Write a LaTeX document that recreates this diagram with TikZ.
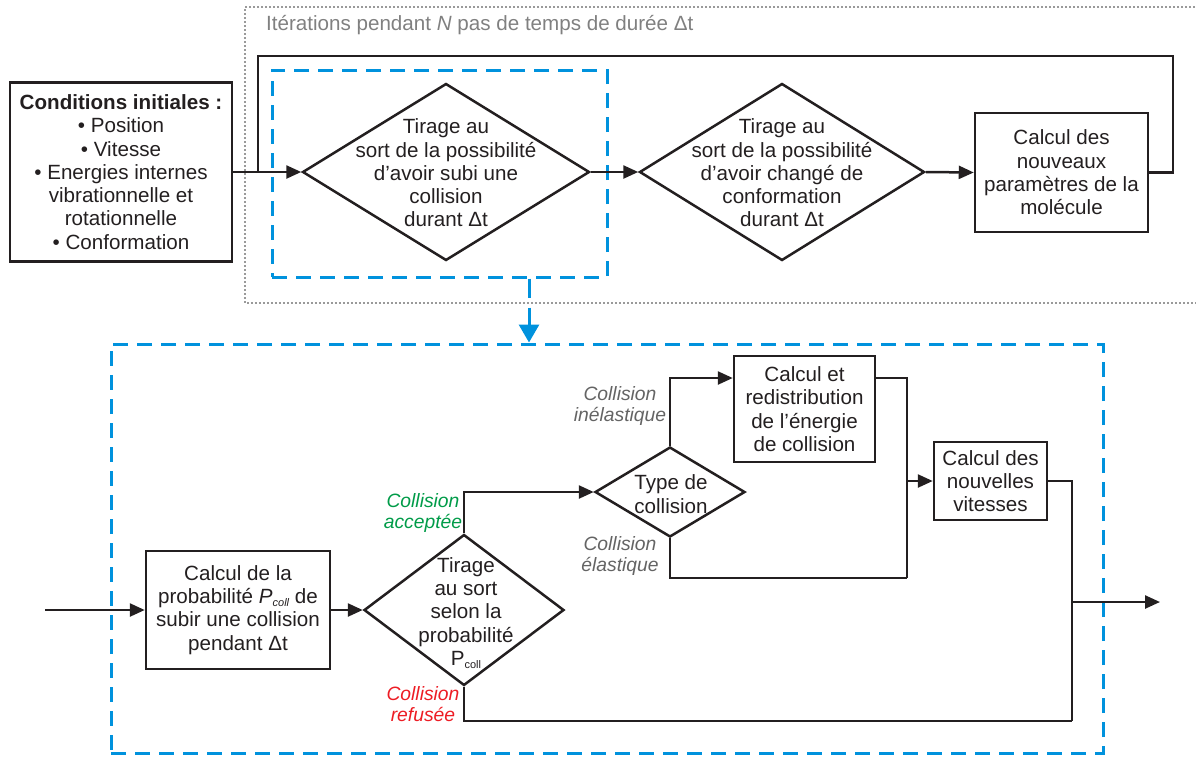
\documentclass[tikz,border=0pt]{standalone}
\usepackage{fontspec}
\setmainfont{Liberation Sans}
\usetikzlibrary{shapes.geometric,arrows.meta}
\definecolor{ink}{RGB}{35,31,32}
\definecolor{myblue}{RGB}{0,146,221}
\definecolor{mygreen}{RGB}{0,155,72}
\definecolor{myred}{RGB}{237,28,36}
\definecolor{titlegray}{RGB}{128,128,128}
\definecolor{labgray}{RGB}{100,100,100}
\newcommand{\subcoll}{\raisebox{-3pt}{\fontsize{11}{11}\selectfont coll}}
\begin{document}
\begin{tikzpicture}[x=1pt,y=-1pt,
  font=\fontsize{20.6}{23.3}\selectfont,
  box/.style={draw=ink, line width=2.5pt, align=center, inner sep=0pt, text=ink},
  dia/.style={diamond, draw=ink, line width=2.5pt, inner sep=0pt},
  txt/.style={align=center, text=ink, inner sep=0pt},
  flow/.style={draw=ink, line width=2.5pt},
  arr/.style={flow, -{Triangle[length=15pt,width=13pt]}},
  bluebox/.style={draw=myblue, line width=3pt, dash pattern=on 15pt off 9pt},
  lab/.style={font=\fontsize{19.3}{20.5}\selectfont\itshape, align=center, inner sep=0pt}
]
\useasboundingbox (0,0) rectangle (1196,756);

% iteration frame (dotted)
\draw[titlegray!80, line width=1.6pt, dash pattern=on 1.6pt off 2.4pt]
  (1199,7) -| (245,303) -- (1199,303);
\node[anchor=west, text=titlegray, inner sep=0pt] (title) at (266,25)
  {Itérations pendant \textit{N} pas de temps de durée Δt};

% top row
\node[box, minimum width=222, minimum height=179] (cond) at (121,172)
  {\textbf{Conditions initiales :}\\• Position\\• Vitesse\\• Energies internes\\vibrationnelle et\\rotationnelle\\• Conformation};

\node[bluebox, minimum width=335, minimum height=207, inner sep=0pt] (sel) at (439.5,173.5) {};

\node[dia, minimum width=287, minimum height=177] (d1) at (446,172) {};
\node[txt] (d1t) at (446,173) {Tirage au\\sort de la possibilité\\d’avoir subi une\\collision\\durant Δt};

\node[dia, minimum width=285, minimum height=177] (d2) at (782,172) {};
\node[txt] (d2t) at (782,173) {Tirage au\\sort de la possibilité\\d’avoir changé de\\conformation\\durant Δt};

\node[box, minimum width=173, minimum height=119] (b3) at (1061.5,172.5)
  {Calcul des\\nouveaux\\paramètres de la\\molécule};

\coordinate (j) at (258,172);
\coordinate (fbR) at (1173,56);
\coordinate (fbL) at (258,56);

\draw[arr] (cond.east |- d1.west) -- (d1.west);
\draw[arr] (d1.east) -- (d2.west);
\draw[arr] (d2.east) -- (b3.west);
\draw[flow] (b3.east) -| (fbR) -- (fbL) -- (j);

% bottom detail box
\node[bluebox, minimum width=992, minimum height=409, inner sep=0pt] (big) at (607,548.5) {};
\coordinate (bx) at (529,0);
\draw[myblue, line width=3pt, dash pattern=on 19pt off 10pt,
  -{Triangle[length=18pt,width=20pt]}] (sel.south -| bx) -- (big.north -| bx);

\node[box, minimum width=184, minimum height=118] (b4) at (238,610)
  {Calcul de la\\probabilité \textit{P}\textit{\subcoll} de\\subir une collision\\pendant Δt};

\node[dia, minimum width=200, minimum height=151] (d3) at (464,610) {};
\node[txt] (d3t) at (466,613) {Tirage\\au sort\\selon la\\probabilité\\P\subcoll};

\node[dia, minimum width=150, minimum height=90] (d4) at (670,492) {};
\node[txt] (d4t) at (671,494) {Type de\\collision};

\node[box, minimum width=141, minimum height=106] (b5) at (804.5,409)
  {Calcul et\\redistribution\\de l’énergie\\de collision};

\node[box, minimum width=113, minimum height=78] (b6) at (990.5,481)
  {Calcul des\\nouvelles\\vitesses};

\coordinate (in) at (45,610);
\coordinate (yA) at (0,378);
\coordinate (mx) at (907,578);
\coordinate (ox) at (1072,721);
\coordinate (out) at (1160,602);

\draw[arr] (in) -- (b4.west);
\draw[arr] (b4.east) -- (d3.west);
\draw[arr] (d3.north) |- (d4.west);
\draw[arr] (d4.north) |- (b5.west |- yA);
\draw[flow] (b5.east |- yA) -| (mx);
\draw[flow] (d4.south) |- (mx);
\draw[arr] (mx |- b6.west) -- (b6.west);
\draw[flow] (b6.east) -| (ox);
\draw[flow] (d3.south) |- (ox);
\draw[arr] (ox |- out) -- (out);

% labels
\node[lab, text=mygreen] (lacc) at (423,513) {Collision\\acceptée};
\node[lab, text=myred] (lref) at (423,704) {Collision\\refusée};
\node[lab, text=labgray] (linel) at (620,406) {Collision\\inélastique};
\node[lab, text=labgray] (lel) at (620,556) {Collision\\élastique};
\end{tikzpicture}
\end{document}
